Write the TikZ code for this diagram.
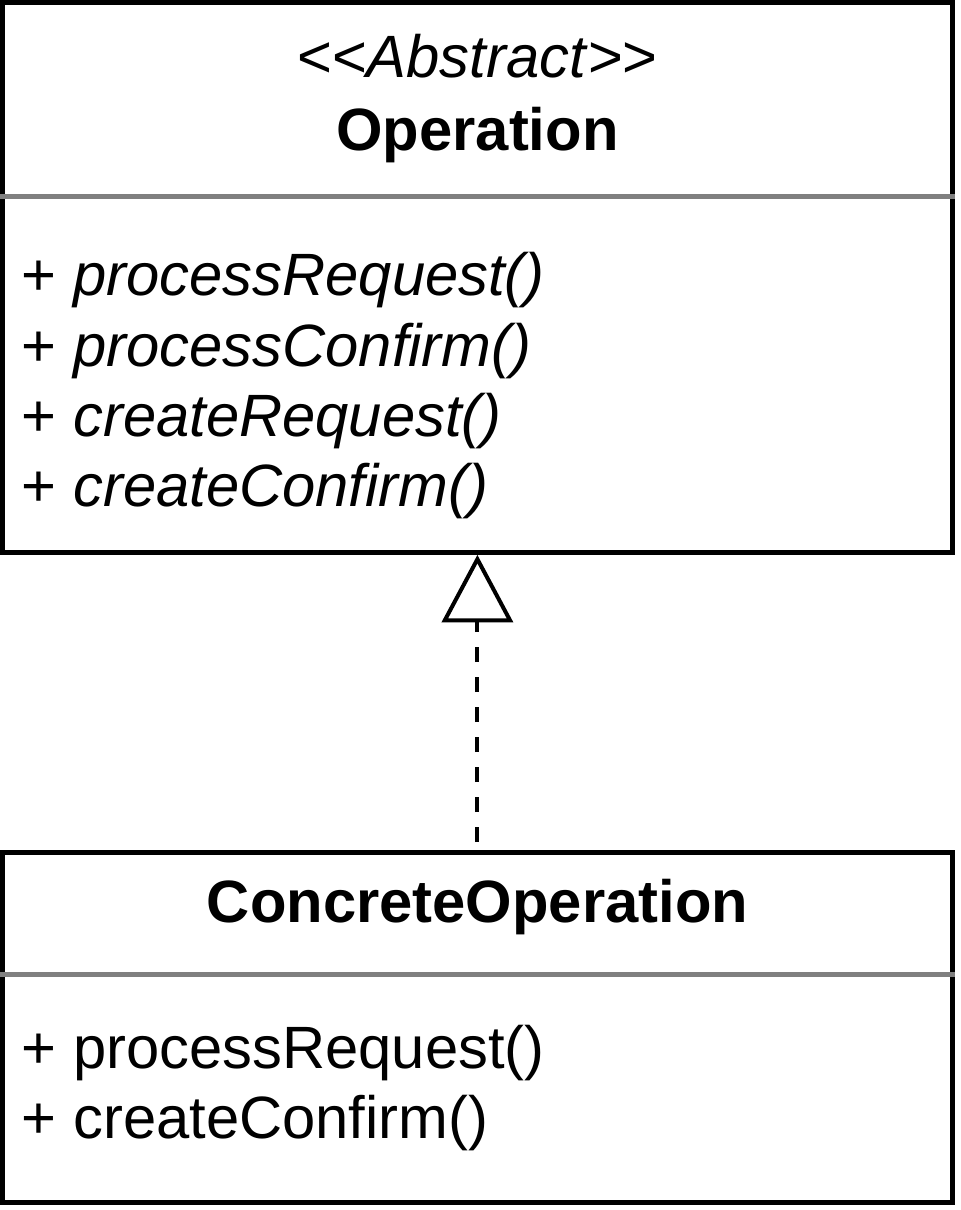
\documentclass[tikz,border=0pt]{standalone}
\usepackage{fontspec}
\setmainfont{Liberation Sans}
\usetikzlibrary{arrows.meta}
\definecolor{sepgray}{RGB}{128,128,128}
\begin{document}
\begin{tikzpicture}[x=0.02cm,y=-0.02cm,
  classbox/.style={draw, line width=0.1cm, minimum width=19cm, inner sep=0, anchor=north west},
  sepline/.style={draw=sepgray, line width=0.1cm},
  member/.style={inner sep=0, anchor=base west, font=\fontsize{34}{40}\selectfont},
  title/.style={inner sep=0, anchor=base, font=\fontsize{34}{40}\selectfont},
  realize/.style={line width=0.08cm, dash pattern=on 0.3cm off 0.3cm, dash phase=0.44cm,
    -{Triangle[open, length=1.35cm, width=1.42cm]}}]
\useasboundingbox (0,0) rectangle (960,1210);
\node[classbox, minimum height=11cm] (op) at (0,0) {};
\node[classbox, minimum height=7cm] (cop) at (0,850) {};
\draw[sepline] (0,196.5) -- (955,196.5);
\draw[sepline] (0,974) -- (955,974);
\node[title] (opst) at (477.5,77) {<\kern0pt<\textit{Abstract}>\kern0pt>};
\node[title] (opname) at (477.5,150) {\bfseries Operation};
\node[member] (op1) at (21.5,295) {+ \textit{processRequest()}};
\node[member] (op2) at (21.5,366.5) {+ \textit{processConfirm()}};
\node[member] (op3) at (21.5,436.5) {+ \textit{createRequest()}};
\node[member] (op4) at (21.5,506.5) {+ \textit{createConfirm()}};
\node[title] (copname) at (477.5,922) {\bfseries ConcreteOperation};
\node[member] (cop1) at (21.5,1068) {+ processRequest()};
\node[member] (cop2) at (21.5,1138) {+ createConfirm()};
\draw[realize] (cop.north) -- (op.south);
\end{tikzpicture}
\end{document}
